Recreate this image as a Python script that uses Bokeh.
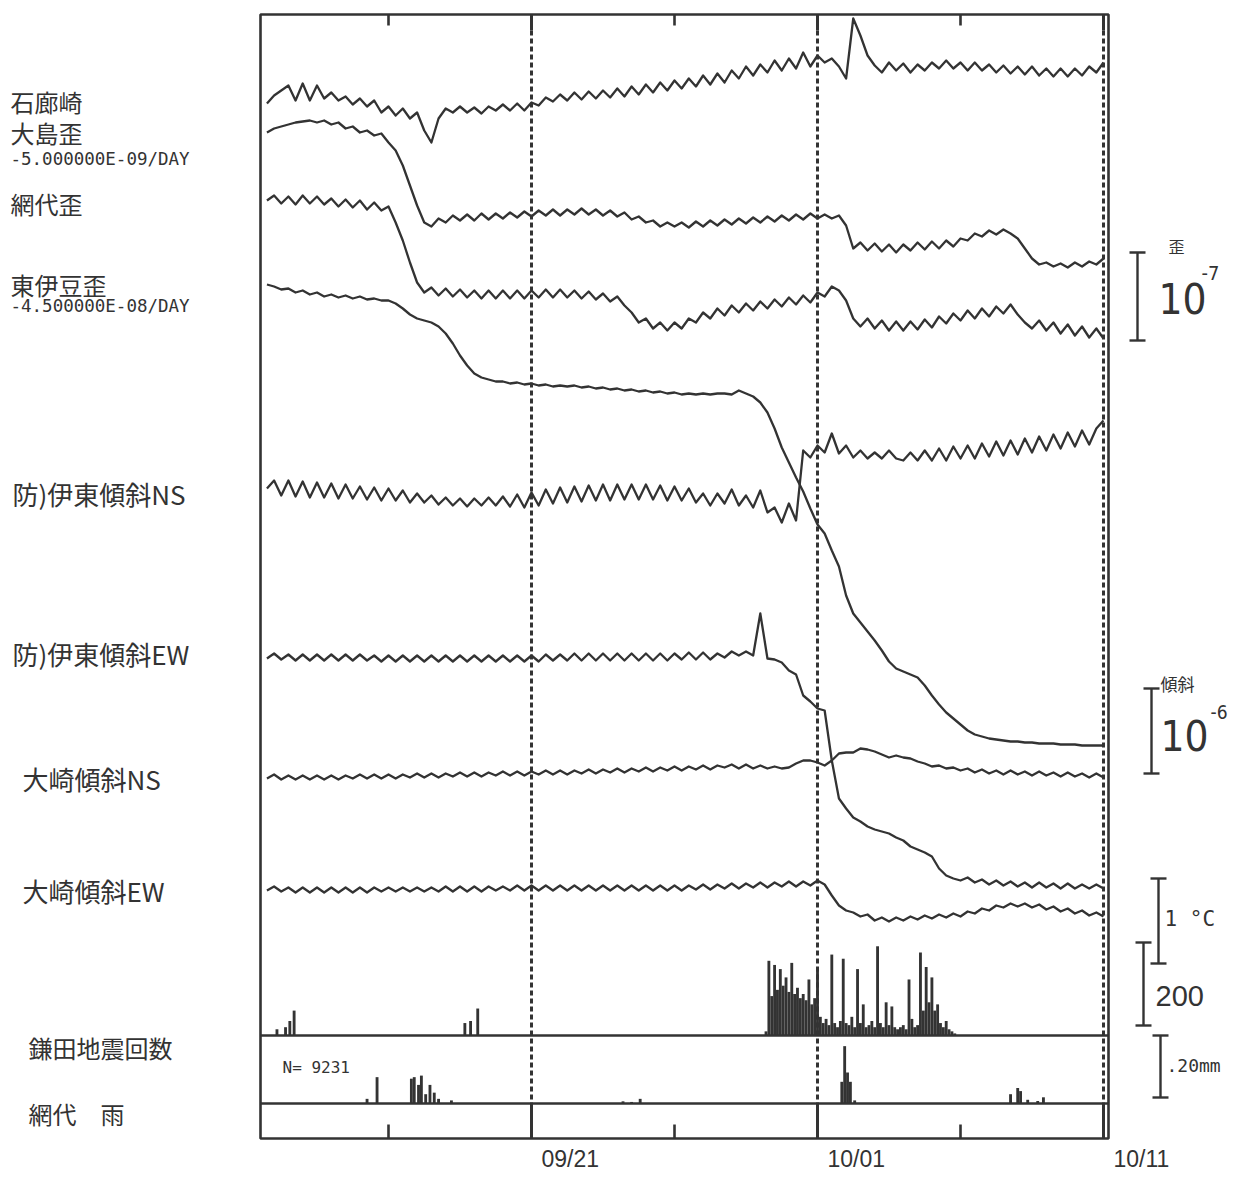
import numpy as np
from bokeh.plotting import figure
from bokeh.models import Range1d, Label
from bokeh.embed import file_html
from bokeh.resources import INLINE

# ---------------------------------------------------------------- data
# time axis: days after 09/21 (09/21 = 0, 10/01 = 10, 10/11 = 20)
T0 = -9.25          # first sample of every trace
DT = 0.25           # sampling step (days)
date_ticks = [0, 10, 20]
date_labels = ["09/21", "10/01", "10/11"]
minor_ticks = [-5, 5, 15]

# trace deflections (upward positive, chart units)
irozaki = [-3, 5, 10, 15, 0, 17, 0, 15, 2, 8,
           0, 4, -4, 2, -6, 0, -12, -6, -15, -8,
           -18, -12, -30, -42, -18, -8, -12, -6, -12, -7,
           -13, -6, -10, -4, -10, -3, -10, -2, -5, 3,
           -1, 6, 0, 8, 1, 9, 2, 10, 3, 12,
           4, 14, 6, 16, 8, 18, 10, 20, 12, 22,
           14, 25, 16, 27, 18, 30, 22, 34, 25, 36,
           28, 40, 30, 42, 32, 48, 34, 45, 38, 42,
           34, 22, 82, 65, 45, 35, 28, 38, 30, 37,
           28, 36, 30, 38, 32, 40, 32, 38, 30, 38,
           30, 36, 28, 35, 27, 34, 26, 34, 25, 32,
           24, 32, 24, 32, 25, 34, 28, 38]
oshima = [-2, 2, 4, 6, 8, 9, 10, 8, 10, 6,
          8, 2, 4, -2, 0, -5, -3, -12, -20, -35,
          -55, -75, -92, -96, -88, -92, -85, -90, -84, -90,
          -83, -89, -83, -88, -82, -87, -81, -86, -80, -85,
          -79, -85, -79, -84, -78, -84, -79, -85, -80, -86,
          -82, -89, -86, -92, -90, -96, -92, -96, -92, -97,
          -91, -96, -90, -95, -89, -94, -88, -93, -87, -92,
          -86, -91, -85, -90, -84, -89, -83, -88, -84, -88,
          -85, -95, -118, -112, -120, -113, -121, -114, -122, -114,
          -120, -112, -119, -111, -118, -110, -116, -108, -110, -103,
          -106, -100, -104, -99, -103, -108, -118, -128, -134, -132,
          -136, -133, -137, -132, -136, -131, -134, -128]
ajiro = [0, 5, -3, 4, -4, 5, -3, 4, -4, 2,
         -6, 1, -7, 0, -9, -2, -10, -6, -22, -40,
         -62, -82, -92, -87, -95, -88, -96, -89, -97, -90,
         -98, -90, -98, -90, -98, -90, -98, -90, -97, -89,
         -97, -89, -97, -90, -98, -91, -99, -93, -101, -96,
         -105, -112, -122, -118, -128, -122, -130, -122, -128, -118,
         -122, -112, -118, -108, -115, -105, -112, -103, -110, -101,
         -108, -99, -106, -97, -104, -95, -102, -92, -96, -86,
         -90, -100, -118, -126, -118, -128, -120, -130, -121, -130,
         -121, -129, -119, -127, -116, -123, -113, -120, -110, -118,
         -108, -116, -106, -113, -104, -114, -122, -128, -120, -130,
         -122, -133, -124, -135, -126, -137, -128, -138]
higashi_izu = [1, -1, -4, -3, -7, -5, -9, -7, -11, -9,
               -12, -10, -13, -11, -14, -13, -15, -15, -18, -23,
               -29, -33, -35, -37, -41, -48, -58, -70, -80, -88,
               -92, -94, -96, -96, -98, -97, -99, -98, -100, -99,
               -101, -100, -101, -100, -102, -101, -103, -102, -104, -103,
               -105, -104, -106, -105, -107, -106, -108, -107, -109, -108,
               -109, -108, -109, -108, -108, -109, -105, -108, -111, -117,
               -127, -143, -162, -177, -192, -206, -223, -239, -248, -265,
               -281, -310, -328, -337, -346, -355, -365, -376, -383, -386,
               -389, -392, -400, -410, -419, -427, -433, -439, -445, -449,
               -451, -453, -454, -455, -456, -456, -457, -457, -458, -458,
               -458, -459, -459, -459, -460, -460, -460, -460]
ito_ns = [2, 10, -5, 10, -6, 9, -7, 8, -7, 7,
          -8, 6, -8, 4, -9, 3, -10, 2, -10, 0,
          -12, -3, -12, -5, -14, -7, -15, -8, -16, -8,
          -15, -7, -15, -6, -16, -4, -17, -2, -15, 1,
          -13, 3, -12, 4, -11, 5, -10, 6, -10, 6,
          -9, 6, -9, 6, -9, 5, -10, 4, -10, 2,
          -12, -3, -15, -3, -13, 1, -15, -5, -17, 0,
          -22, -17, -32, -13, -30, 40, 33, 45, 38, 57,
          37, 45, 33, 40, 32, 38, 32, 40, 32, 30,
          38, 30, 40, 30, 42, 30, 44, 32, 45, 32,
          47, 34, 49, 35, 50, 36, 52, 38, 54, 40,
          56, 42, 58, 44, 60, 46, 62, 70]
ito_ew = [0, 5, -1, 4, -2, 4, -2, 4, -2, 4,
          -2, 4, -2, 4, -2, 3, -3, 3, -3, 3,
          -3, 3, -3, 3, -3, 3, -3, 3, -3, 3,
          -3, 3, -3, 3, -3, 3, -3, 3, -3, 4,
          -2, 4, -2, 5, -2, 5, -2, 5, -2, 5,
          -2, 5, -2, 5, -2, 5, -2, 5, -1, 6,
          -1, 6, -1, 5, 1, 7, 3, 7, 3, 45,
          0, -1, -4, -12, -16, -37, -43, -50, -52, -102,
          -140, -150, -159, -163, -168, -171, -173, -175, -179, -182,
          -188, -191, -194, -198, -210, -217, -220, -222, -219, -224,
          -221, -226, -222, -227, -223, -228, -224, -229, -224, -229,
          -225, -230, -225, -230, -226, -230, -226, -230]
osaki_ns = [0, 4, -1, 3, -1, 3, -1, 3, -1, 3,
            -1, 3, 0, 4, 0, 4, 0, 4, 0, 4,
            1, 5, 1, 5, 1, 5, 2, 6, 2, 6,
            2, 6, 3, 7, 3, 7, 3, 7, 4, 8,
            4, 8, 4, 8, 5, 9, 5, 9, 6, 10,
            6, 10, 7, 11, 7, 11, 8, 12, 8, 12,
            9, 13, 9, 13, 11, 14, 10, 14, 10, 13,
            10, 12, 10, 11, 15, 18, 18, 16, 13, 18,
            25, 26, 26, 30, 29, 27, 24, 21, 23, 21,
            20, 17, 15, 12, 13, 10, 11, 8, 10, 6,
            9, 5, 8, 4, 8, 4, 7, 3, 7, 3,
            6, 2, 6, 2, 5, 1, 5, 1]
osaki_ew = [0, 4, -1, 3, -2, 3, -2, 3, -2, 3,
            -2, 3, -2, 3, -2, 3, -1, 3, -1, 3,
            -1, 3, -1, 3, -1, 4, -1, 4, -1, 4,
            -1, 4, 0, 4, 0, 5, 0, 5, 0, 5,
            0, 5, 0, 5, 0, 5, 0, 5, 0, 5,
            0, 5, 0, 5, 0, 5, 0, 5, 0, 5,
            1, 6, 1, 6, 2, 7, 2, 7, 3, 8,
            3, 8, 4, 9, 4, 9, 5, 10, 6, -5,
            -15, -20, -22, -26, -24, -30, -27, -31, -27, -30,
            -26, -29, -25, -28, -24, -27, -23, -26, -21, -23,
            -18, -20, -15, -17, -13, -16, -13, -17, -14, -19,
            -16, -21, -18, -23, -20, -25, -22, -26]

# earthquake counts (鎌田)
quake_day_early = [-8.9, -8.6, -8.45, -8.3, -2.33, -2.13, -1.88]
quake_count_early = [15, 20, 35, 60, 30, 35, 65]
SWARM_START = 8.2   # first 0.1-day bin of the swarm
quake_count_swarm = [10, 180, 95, 170, 110, 160, 120, 140, 105, 175,
                     100, 115, 90, 100, 85, 135, 75, 90, 165, 45,
                     30, 40, 25, 195, 30, 20, 35, 185, 30, 25,
                     45, 20, 160, 30, 75, 20, 25, 35, 20, 215,
                     30, 20, 80, 25, 70, 20, 15, 20, 25, 15,
                     135, 40, 20, 25, 200, 60, 165, 80, 140, 60,
                     75, 30, 20, 35, 15, 10, 5]
quake_total = "N= 9231"

# rain at 網代 (mm)
rain_day = [-5.75, -5.4, -4.2, -4.1, -3.95, -3.85, -3.7, -3.55, -3.4, -3.25, -2.8,
            3.2, 3.5, 3.8, 10.85, 10.95, 11.05, 11.15, 11.3,
            16.75, 17.0, 17.1, 17.35, 17.7, 17.9]
rain_mm = [1.5, 8.5, 8, 8.5, 6, 9, 3, 6, 3.5, 1.5, 1,
           0.7, 0.5, 1.5, 7, 18.5, 10, 7, 1,
           3, 5, 4, 1.2, 0.8, 2]

# ---------------------------------------------------------------- layout
W, H = 1236, 1172
PAGE = 0            # canvas origin in the screenshot
PX_PER_DAY = 28.6
X_0921 = 531.0


def dx(px):
    return (px - X_0921) / PX_PER_DAY


FL, FR = dx(260), dx(1108)
FT, FB = 14, 1138
QUAKE_BASE, RAIN_BASE = 1035, 1103
QUAKE_PX = 83 / 200.0     # px per count (scale bar 200)
RAIN_PX = 62 / 20.0       # px per mm (scale bar 20 mm)
INK = "#333333"

p = figure(width=W, height=H, output_backend="svg", toolbar_location=None,
           x_range=Range1d(dx(PAGE), dx(PAGE + W)),
           y_range=Range1d(PAGE + H, PAGE),
           x_axis_location=None, y_axis_location=None, title=None,
           min_border=0, min_border_left=0, min_border_right=0,
           min_border_top=0, min_border_bottom=0)
p.grid.visible = False
p.outline_line_color = None
p.background_fill_color = "white"
p.border_fill_color = "white"

# traces
traces = [
    ("irozaki", irozaki, 100),
    ("oshima", oshima, 130),
    ("ajiro", ajiro, 200),
    ("higashi_izu", higashi_izu, 285),
    ("ito_ns", ito_ns, 490),
    ("ito_ew", ito_ew, 658),
    ("osaki_ns", osaki_ns, 778),
    ("osaki_ew", osaki_ew, 890),
]
for name, vals, base in traces:
    p.extra_y_ranges[name] = Range1d(base - (PAGE + H), base - PAGE)
    days = T0 + DT * np.arange(len(vals))
    p.line(days, vals, y_range_name=name, line_color=INK, line_width=2.3,
           line_join="round")

# earthquake histogram
p.extra_y_ranges["quake"] = Range1d((QUAKE_BASE - (PAGE + H)) / QUAKE_PX,
                                    (QUAKE_BASE - PAGE) / QUAKE_PX)
swarm_days = SWARM_START + 0.1 * np.arange(len(quake_count_swarm))
qd = list(quake_day_early) + list(swarm_days)
qc = list(quake_count_early) + list(quake_count_swarm)
p.vbar(x=qd, top=qc, bottom=0, width=0.1, y_range_name="quake",
       fill_color=INK, line_color=None)

# rain histogram
p.extra_y_ranges["rain"] = Range1d((RAIN_BASE - (PAGE + H)) / RAIN_PX,
                                   (RAIN_BASE - PAGE) / RAIN_PX)
p.vbar(x=rain_day, top=rain_mm, bottom=0, width=0.1, y_range_name="rain",
       fill_color=INK, line_color=None)

# frame and separators
p.quad(left=FL, right=FR, top=FT, bottom=FB, fill_color=None,
       line_color=INK, line_width=2.6)
p.segment(x0=[FL, FL], x1=[FR, FR], y0=[QUAKE_BASE, RAIN_BASE],
          y1=[QUAKE_BASE, RAIN_BASE], line_color=INK, line_width=2.4)

# date lines: solid stubs at top, dashed body, solid in bottom strip
p.segment(x0=date_ticks, x1=date_ticks, y0=[FT] * 3, y1=[FT + 16] * 3,
          line_color=INK, line_width=3)
p.segment(x0=date_ticks, x1=date_ticks, y0=[FT + 16] * 3, y1=[RAIN_BASE] * 3,
          line_color=INK, line_width=3, line_dash="5 3")
p.segment(x0=date_ticks, x1=date_ticks, y0=[RAIN_BASE] * 3, y1=[FB] * 3,
          line_color=INK, line_width=3)
p.segment(x0=minor_ticks, x1=minor_ticks, y0=[FT] * 3, y1=[FT + 11] * 3,
          line_color=INK, line_width=2.6)
p.segment(x0=minor_ticks, x1=minor_ticks, y0=[FB - 14] * 3, y1=[FB] * 3,
          line_color=INK, line_width=2.6)

JP = "Noto Sans CJK JP"
MONO = "DejaVu Sans Mono"
NARROW = "DejaVu Sans Condensed"


def label(px, py, text, size, font=JP, align="left", style="normal"):
    p.add_layout(Label(x=dx(px), y=py, text=text, text_font=font,
                       text_font_size=f"{size}px", text_color=INK,
                       text_align=align, text_baseline="middle",
                       text_font_style=style))


# left labels
label(10, 101, "石廊崎", 24)
label(10, 132, "大島歪", 24)
label(10, 158, "-5.000000E-09/DAY", 17.5, MONO)
label(10, 203, "網代歪", 24)
label(10, 284, "東伊豆歪", 24)
label(10, 305, "-4.500000E-08/DAY", 17.5, MONO)
label(12, 493, "防)伊東傾斜NS", 26)
label(12, 653, "防)伊東傾斜EW", 26)
label(22, 778, "大崎傾斜NS", 26)
label(22, 890, "大崎傾斜EW", 26)
label(28, 1047, "鎌田地震回数", 24)
label(28, 1113, "網代　雨", 24)
label(282, 1067, quake_total, 16, MONO)

# date labels
for d, t in zip(date_ticks, date_labels):
    p.add_layout(Label(x=d + 10 / PX_PER_DAY, y=1158, text=t,
                       text_font="Liberation Sans", text_font_size="23px",
                       text_color=INK, text_align="left",
                       text_baseline="middle"))


# scale bars
def scalebar(px, top, length, half=8):
    x = dx(px)
    h = half / PX_PER_DAY
    p.segment(x0=[x, x - h, x - h], x1=[x, x + h, x + h],
              y0=[top, top, top + length], y1=[top + length, top, top + length],
              line_color=INK, line_width=2.4)


STRAIN_1E7 = 88     # chart units for 1e-7 strain
TILT_1E6 = 85       # chart units for 1e-6 tilt
TEMP_1C = 85        # chart units for 1 deg C
scalebar(1137, 252, STRAIN_1E7)
scalebar(1151, 688, TILT_1E6)
scalebar(1158, 878, TEMP_1C)
scalebar(1143, 1025 - 200 * QUAKE_PX, 200 * QUAKE_PX)
scalebar(1160, 1035, 20 * RAIN_PX)

label(1168, 245, "歪", 16)
label(1158, 298, "10", 42, NARROW)
label(1201, 272, "-7", 20, NARROW)
label(1160, 683, "傾斜", 17)
label(1160, 735, "10", 42, NARROW)
label(1210, 711, "-6", 19, NARROW)
label(1164, 918, "1 °C", 21, MONO)
label(1155, 995, "200", 29, "Liberation Sans")
label(1166, 1065, ".20mm", 18, MONO)

open("out.html", "w").write(file_html(p, INLINE))
